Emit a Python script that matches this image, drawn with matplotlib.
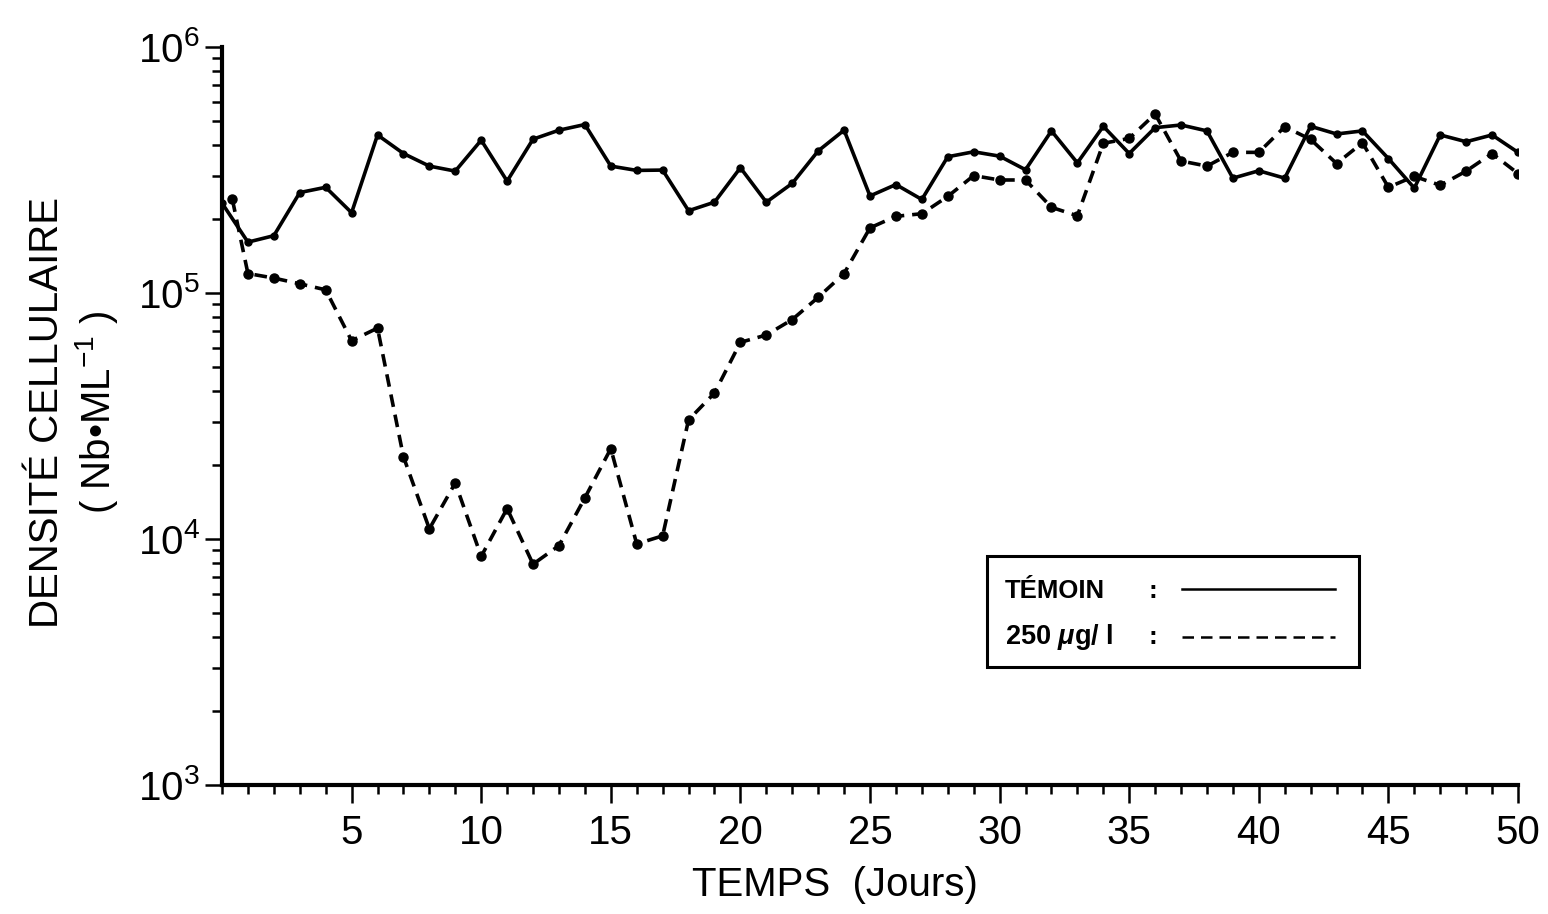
import matplotlib
matplotlib.use("Agg")
import matplotlib.pyplot as plt
from matplotlib.patches import Rectangle
from matplotlib.lines import Line2D
from matplotlib.ticker import LogLocator, MultipleLocator, FixedLocator

plt.rcParams['font.family'] = ['Liberation Sans', 'DejaVu Sans']
plt.rcParams['mathtext.fontset'] = 'custom'
plt.rcParams['mathtext.rm'] = 'Liberation Sans'
plt.rcParams['mathtext.it'] = 'Liberation Sans:italic:bold'
plt.rcParams['mathtext.bf'] = 'Liberation Sans:bold'

# Témoin (control), one reading per day
days_temoin = list(range(0, 51))
temoin = [2.32e5, 1.61e5, 1.71e5, 2.56e5, 2.69e5, 2.12e5, 4.39e5, 3.69e5, 3.28e5, 3.13e5,
          4.18e5, 2.85e5, 4.22e5, 4.59e5, 4.84e5, 3.28e5, 3.15e5, 3.16e5, 2.16e5, 2.34e5,
          3.23e5, 2.34e5, 2.79e5, 3.78e5, 4.59e5, 2.48e5, 2.76e5, 2.40e5, 3.58e5, 3.75e5,
          3.60e5, 3.17e5, 4.56e5, 3.38e5, 4.76e5, 3.69e5, 4.70e5, 4.82e5, 4.56e5, 2.93e5,
          3.14e5, 2.93e5, 4.76e5, 4.43e5, 4.56e5, 3.52e5, 2.67e5, 4.39e5, 4.12e5, 4.39e5,
          3.73e5]

# 250 ug/l treatment
days_250 = [0.4] + list(range(1, 51))
dose_250 = [2.40e5, 1.20e5, 1.15e5, 1.09e5, 1.03e5, 6.4e4, 7.2e4, 2.16e4, 1.10e4, 1.69e4,
            8.5e3, 1.33e4, 7.9e3, 9.4e3, 1.47e4, 2.33e4, 9.55e3, 1.03e4, 3.05e4, 3.92e4,
            6.3e4, 6.75e4, 7.8e4, 9.6e4, 1.20e5, 1.84e5, 2.05e5, 2.10e5, 2.47e5, 3.00e5,
            2.88e5, 2.88e5, 2.23e5, 2.06e5, 4.06e5, 4.25e5, 5.34e5, 3.44e5, 3.28e5, 3.73e5,
            3.73e5, 4.74e5, 4.21e5, 3.36e5, 4.08e5, 2.69e5, 2.98e5, 2.74e5, 3.13e5, 3.69e5,
            3.06e5]

W, H = 1548, 914
fig = plt.figure(figsize=(W / 100, H / 100), dpi=100)
ax = fig.add_axes([222 / W, 1 - 785 / H, (1518 - 222) / W, (785 - 47) / H])

ax.plot(days_temoin, temoin, color='black', lw=2.6, marker='o', ms=5, solid_joinstyle='miter')
ax.plot(days_250, dose_250, color='black', lw=2.6, ls=(0, (3.5, 2.2)), marker='o', ms=6.5)

ax.set_yscale('log')
ax.set_ylim(1e3, 1e6)
ax.set_xlim(0, 50)

ax.spines['top'].set_visible(False)
ax.spines['right'].set_visible(False)
ax.spines['left'].set_linewidth(3)
ax.spines['bottom'].set_linewidth(3)

ax.xaxis.set_major_locator(FixedLocator(list(range(5, 51, 5))))
ax.xaxis.set_minor_locator(MultipleLocator(1))
ax.yaxis.set_major_locator(LogLocator(base=10, numticks=10))
ax.yaxis.set_minor_locator(LogLocator(base=10, subs=range(2, 10), numticks=20))

ax.tick_params(axis='x', which='major', length=13, width=1.8, pad=8, labelsize=29)
ax.tick_params(axis='x', which='minor', length=6.5, width=1.8)
ax.tick_params(axis='y', which='major', length=12, width=1.8, pad=4, labelsize=29)
ax.tick_params(axis='y', which='minor', length=7, width=1.8)
ax.tick_params(which='both', direction='out')

fig.text(835 / W, 1 - 885 / H, 'TEMPS  (Jours)', ha='center', va='center', fontsize=29)
fig.text(74 / W, 1 - 412 / H, 'DENSITÉ CELLULAIRE\n( Nb•ML$^{-1}$ )', rotation=90,
         ha='center', va='center', multialignment='center', fontsize=29, linespacing=1.2)

# legend box
x0, y0, x1, y1 = 987, 556, 1359, 667
fig.patches.append(Rectangle((x0 / W, 1 - y1 / H), (x1 - x0) / W, (y1 - y0) / H,
                             transform=fig.transFigure, fill=False, lw=2.2, ec='black'))
fig.text(1005 / W, 1 - 591 / H, 'TÉMOIN', ha='left', va='center', fontsize=18.5, fontweight='bold')
fig.text(1005 / W, 1 - 637 / H, '250 $\\mathit{\\mu}$g/ l', ha='left', va='center',
         fontsize=19.5, fontweight='bold')
for yy in (591, 637):
    fig.text(1153 / W, 1 - yy / H, ':', ha='center', va='center', fontsize=19, fontweight='bold')
fig.lines.append(Line2D([1182 / W, 1335 / W], [1 - 589 / H, 1 - 589 / H],
                        transform=fig.transFigure, color='black', lw=1.8))
fig.lines.append(Line2D([1182 / W, 1335 / W], [1 - 637 / H, 1 - 637 / H],
                        transform=fig.transFigure, color='black', lw=1.8, ls=(0, (4.6, 2.8))))

fig.savefig('out.png', dpi=100)
